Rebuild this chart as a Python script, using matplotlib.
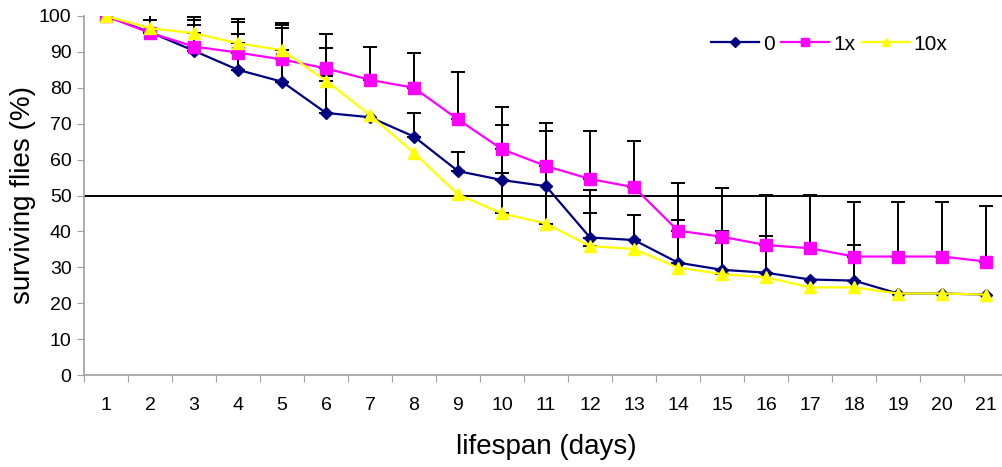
import numpy as np
import matplotlib
matplotlib.use("Agg")
import matplotlib.pyplot as plt
from matplotlib import font_manager

## condensed face if there is one
names = {f.name for f in font_manager.fontManager.ttflist}
narrow = 'Liberation Sans Narrow' if 'Liberation Sans Narrow' in names else 'Liberation Sans'
plt.rcParams['font.family'] = [narrow, 'DejaVu Sans']

## data
days = list(range(1, 22))
s0 = [100, 95.5, 90.3, 85.0, 81.7, 73.0, 71.8, 66.4, 56.8, 54.3, 52.6, 38.3, 37.6,
      31.3, 29.3, 28.5, 26.6, 26.3, 22.7, 22.7, 22.4]
s1 = [100, 95.3, 91.5, 89.8, 87.9, 85.4, 82.2, 80.0, 71.2, 62.9, 58.2, 54.6, 52.3,
      40.2, 38.5, 36.2, 35.3, 33.0, 33.0, 33.0, 31.6]
s10 = [100, 96.6, 95.2, 92.4, 90.5, 82.0, 72.4, 61.9, 50.3, 45.0, 42.2, 35.9, 35.1,
       29.9, 28.1, 27.2, 24.4, 24.4, 22.7, 22.7, 22.4]

## upward error (plus only)
e0 = [0, 3.5, 7.2, 10.1, 14.9, 10.3, 0, 6.6, 5.2, 15.3, 0, 13.2, 7.1,
      12.0, 10.8, 10.2, 0, 9.9, 0, 0, 0]
e1 = [0, 5.7, 7.5, 8.6, 9.6, 9.5, 9.2, 9.7, 13.3, 11.8, 12.1, 13.4, 12.9,
      13.4, 13.5, 14.0, 14.9, 15.1, 15.1, 15.1, 15.4]
e10 = [0, 0, 4.6, 6.9, 7.6, 9.0, 0, 0, 0, 11.3, 25.8, 9.1, 0,
       0, 8.6, 0, 0, 0, 0, 0, 0]

labels = ['0', '1x', '10x']
colors = ['#000080', '#FF00FF', '#FFFF00']
markers = ['D', 's', '^']
msizes = [6, 8, 8]

fig = plt.figure(figsize=(10.02, 4.67), dpi=100)
ax = fig.add_axes([84/1002, 92/467, 924/1002, 359/467])

x = np.array(days)
for ys, es in [(s0, e0), (s1, e1), (s10, e10)]:
    ys = np.array(ys); es = np.array(es)
    m = es > 0
    ax.errorbar(x[m], ys[m], yerr=[np.zeros(m.sum()), es[m]], fmt='none',
                ecolor='black', elinewidth=1.4, capsize=5, capthick=1.4, zorder=2)

for ys, lab, c, mk, ms in zip([s0, s1, s10], labels, colors, markers, msizes):
    ax.plot(days, ys, color=c, marker=mk, markersize=ms, lw=1.6, label=lab, zorder=3)

ax.axhline(50, color='black', lw=1.4, zorder=1)

ax.set_xlim(0.5, 21.5)
ax.set_ylim(0, 100)
ax.set_yticks(np.arange(0, 101, 10))
ax.set_xticks(np.arange(0.5, 22, 1))
ax.set_xticks(days, minor=True)
ax.set_xticklabels([])
ax.set_xticklabels([str(d) for d in days], minor=True)
ax.tick_params(axis='x', which='major', length=5, color='#a0a0a0', direction='out')
ax.tick_params(axis='x', which='minor', length=0, labelsize=14, pad=16)
ax.tick_params(axis='y', length=5, color='#a0a0a0', labelsize=14, pad=4)

for s in ['top', 'right']:
    ax.spines[s].set_visible(False)
for s in ['left', 'bottom']:
    ax.spines[s].set_color('#a0a0a0')
    ax.spines[s].set_linewidth(1.2)

ax.set_xlabel('lifespan (days)', fontsize=20, labelpad=14)
ax.set_ylabel('surviving flies (%)', fontsize=20, labelpad=2)

ax.legend(loc='upper right', bbox_to_anchor=(0.955, 1.0), ncol=3, frameon=False,
          fontsize=15, handlelength=2.3, columnspacing=0.3, handletextpad=0.2,
          markerscale=0.8)

fig.savefig('out.png', dpi=100)
